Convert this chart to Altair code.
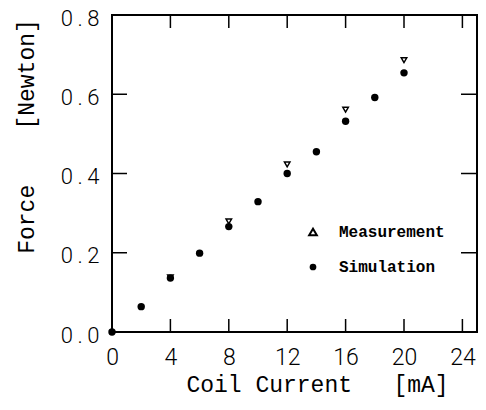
import altair as alt
import pandas as pd

# --- data ---
current_sim = [0, 2, 4, 6, 8, 10, 12, 14, 16, 18, 20]
force_sim = [0.0, 0.064, 0.136, 0.199, 0.266, 0.329, 0.400, 0.455, 0.532, 0.592, 0.654]
current_meas = [4, 8, 12, 16, 20]
force_meas = [0.138, 0.279, 0.423, 0.561, 0.686]
x_ticks = [0, 4, 8, 12, 16, 20, 24]
y_ticks = [0.0, 0.2, 0.4, 0.6, 0.8]
legend_labels = ["Measurement", "Simulation"]
x_title = "Coil Current\u00a0\u00a0\u00a0[mA]"
y_title = "Force\u00a0\u00a0\u00a0\u00a0[Newton]"

W, H = 365, 317

sim_df = pd.DataFrame({"x": current_sim, "y": force_sim})
meas_df = pd.DataFrame({"x": current_meas, "y": force_meas})
xt_df = pd.DataFrame({"x": x_ticks})
yt_df = pd.DataFrame({"y": y_ticks})

xscale = alt.Scale(domain=[0, 25], nice=False, zero=False)
yscale = alt.Scale(domain=[0, 0.8], nice=False, zero=False)

x_axis = alt.Axis(
    values=x_ticks, title=x_title, grid=False, domain=False, ticks=False,
    labelFont="Roboto", labelFontSize=23, labelFontWeight=300, labelColor="black",
    labelPadding=14, labelFlush=False,
    titleFont="Liberation Mono", titleFontSize=23, titleFontWeight="normal", titleColor="black",
    titleX=205, titleY=59, titleBaseline="alphabetic", titleAlign="center",
)
y_axis = alt.Axis(
    values=y_ticks, title=y_title, grid=False, domain=False, ticks=False,
    format=".1f", labelExpr="replace(datum.label, '.', '\u2009.\u2009')",
    labelFont="Roboto", labelFontSize=22, labelFontWeight=300, labelColor="black",
    labelPadding=13, labelFlush=False, labelOffset=3,
    titleFont="Liberation Mono", titleFontSize=23, titleFontWeight="normal", titleColor="black",
    titleX=-79, titleY=121, titleBaseline="alphabetic", titleAlign="center", titleAngle=270,
)

X = lambda f="x": alt.X(f"{f}:Q", scale=xscale, axis=x_axis)
Y = lambda f="y": alt.Y(f"{f}:Q", scale=yscale, axis=y_axis)

sim = alt.Chart(sim_df).mark_point(
    filled=True, color="black", size=55, opacity=1, clip=False
).encode(x=X(), y=Y())

meas = alt.Chart(meas_df).mark_point(
    shape="triangle-down", filled=False, color="black", size=30, strokeWidth=1.5, opacity=1
).encode(x=X(), y=Y())

bottom_ticks = alt.Chart(xt_df).mark_rule(color="black", strokeWidth=1.5).encode(
    x=X(), y=alt.value(H), y2=alt.value(H - 13))
top_ticks = alt.Chart(xt_df).mark_rule(color="black", strokeWidth=1.5).encode(
    x=X(), y=alt.value(0), y2=alt.value(13))
left_ticks = alt.Chart(yt_df).mark_rule(color="black", strokeWidth=1.5).encode(
    y=Y(), x=alt.value(0), x2=alt.value(15))
right_ticks = alt.Chart(yt_df).mark_rule(color="black", strokeWidth=1.5).encode(
    y=Y(), x=alt.value(W), x2=alt.value(W - 16))

one = pd.DataFrame({"a": [0]})
leg_tri = alt.Chart(one).mark_point(
    shape="triangle-up", filled=False, color="black", size=60, strokeWidth=2, opacity=1
).encode(x=alt.value(201), y=alt.value(217))
leg_dot = alt.Chart(one).mark_point(
    filled=True, color="black", size=45, opacity=1
).encode(x=alt.value(201), y=alt.value(252))
leg_txt1 = alt.Chart(one).mark_text(
    text=legend_labels[0], font="Liberation Mono", fontSize=16, fontWeight="bold",
    align="left", baseline="middle", color="black"
).encode(x=alt.value(227), y=alt.value(217))
leg_txt2 = alt.Chart(one).mark_text(
    text=legend_labels[1], font="Liberation Mono", fontSize=16, fontWeight="bold",
    align="left", baseline="middle", color="black"
).encode(x=alt.value(227), y=alt.value(252))

chart = alt.layer(
    bottom_ticks, top_ticks, left_ticks, right_ticks, meas, sim,
    leg_tri, leg_dot, leg_txt1, leg_txt2
).properties(
    width=W, height=H,
    autosize=alt.AutoSizeParams(type="none"),
    padding={"left": 104, "top": 7, "right": 1, "bottom": 69},
).configure_view(
    stroke="black", strokeWidth=2
)

chart.save("out.html", embed_options={"renderer": "svg", "actions": False})
